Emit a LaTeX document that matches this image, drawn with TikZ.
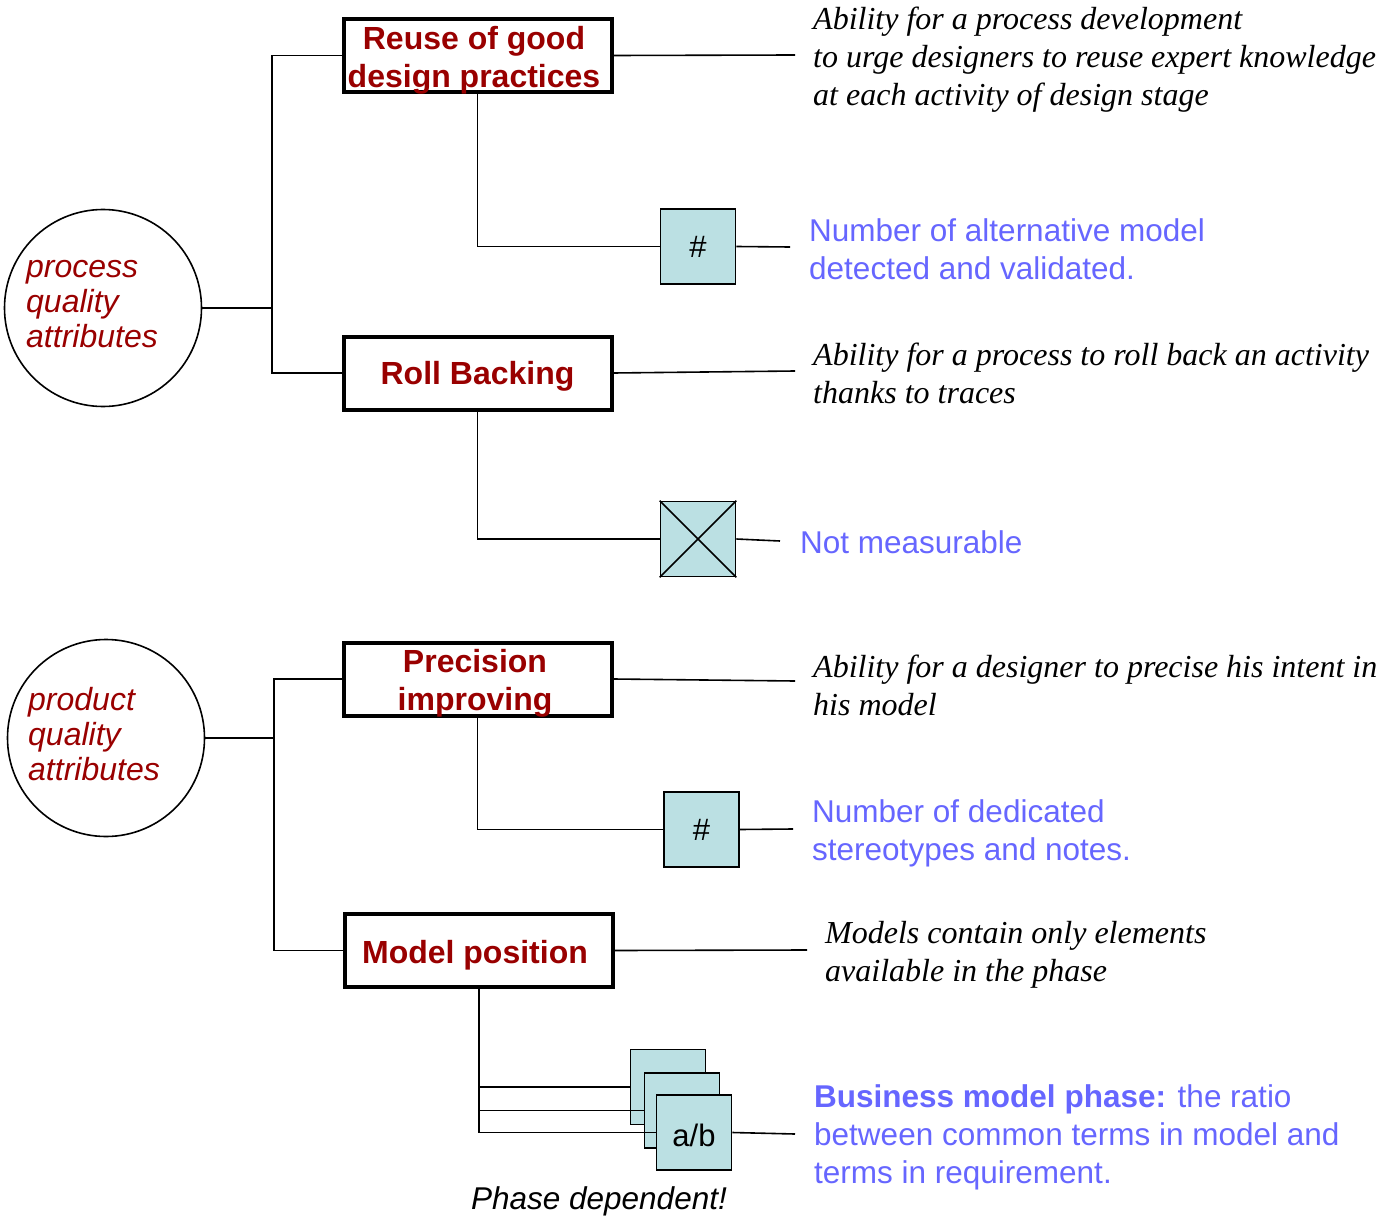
\documentclass[tikz,border=0pt]{standalone}
\usepackage{fontspec}
\setmainfont{Liberation Serif}
\setsansfont{Liberation Sans}
\definecolor{qred}{HTML}{990000}
\definecolor{qblue}{HTML}{6666FF}
\definecolor{mfill}{HTML}{BBE0E3}
\begin{document}
\begin{tikzpicture}[x=1pt,y=-1pt,
  attr/.style={circle, draw, line width=1.6pt, minimum size=197pt, inner sep=0pt},
  attrtext/.style={anchor=west, align=left, inner sep=0pt, text=qred,
    font=\sffamily\itshape\fontsize{32}{35}\selectfont},
  critbox/.style={draw, line width=4pt, minimum width=268pt, minimum height=73pt,
    inner sep=0pt},
  crit/.style={align=center, inner sep=0pt, text=qred,
    font=\sffamily\bfseries\fontsize{32}{38}\selectfont},
  metric/.style={draw, line width=1.6pt, fill=mfill, minimum size=75pt, inner sep=0pt,
    font=\sffamily\fontsize{31}{38}\selectfont},
  link/.style={line width=1.6pt},
  desc/.style={anchor=west, align=left, inner sep=0pt,
    font=\itshape\fontsize{32}{38}\selectfont},
  measure/.style={anchor=west, align=left, inner sep=0pt, text=qblue,
    font=\sffamily\fontsize{31.5}{38}\selectfont}]
\useasboundingbox (0,0) rectangle (1392,1217);

% ---------- process quality attributes ----------
\node[attr] (c1) at (103,308) {};
\node[attrtext] (c1t) at (26,304) {process\\quality\\attributes};
\coordinate (j1) at (272,308);

\node[critbox] (b1) at (477.5,55.5) {};
\node[crit] (b1t) at (474,60) {Reuse of good\\design practices};
\node[critbox] (b2) at (477.5,373) {};
\node[crit] (b2t) at (477.5,376) {Roll Backing};

\draw[link] (c1.east) -- (j1);
\draw[link] (b1.west) -| (j1) |- (b2.west);

\coordinate (d1) at (795,55);
\node[desc] (t1) at (813,60) {Ability for a process development\\to urge designers to reuse expert knowledge\\at each activity of design stage};
\draw[link] (b1.east) -- (d1);

\node[metric] (m1) at (698,246.5) {\#};
\draw[link] (b1.south) |- (m1.west);
\coordinate (e1) at (790,247);
\draw[link] (m1.east) -- (e1);
\node[measure] (s1) at (809,249) {Number of alternative model\\detected and validated.};

\coordinate (d2) at (795,371);
\draw[link] (b2.east) -- (d2);
\node[desc] (t2) at (813,373) {Ability for a process to roll back an activity\\thanks to traces};

\node[metric] (m2) at (698,539) {};
\draw[link] (m2.north west) -- (m2.south east) (m2.north east) -- (m2.south west);
\draw[link] (b2.south) |- (m2.west);
\coordinate (e2) at (780,541);
\draw[link] (m2.east) -- (e2);
\node[measure] (s2) at (800,542) {Not measurable};

% ---------- product quality attributes ----------
\node[attr] (c2) at (106,738) {};
\node[attrtext] (c2t) at (28,734) {product\\quality\\attributes};
\coordinate (j2) at (274,738);

\node[critbox] (b3) at (477.5,679) {};
\node[crit] (b3t) at (475,683) {Precision\\improving};
\node[critbox] (b4) at (479,950.5) {};
\node[crit] (b4t) at (475,955) {Model position};

\draw[link] (c2.east) -- (j2);
\draw[link] (b3.west) -| (j2) |- (b4.west);

\coordinate (d3) at (795,681);
\draw[link] (b3.east) -- (d3);
\node[desc] (t3) at (813,685) {Ability for a designer to precise his intent in\\his model};

\node[metric] (m3) at (701.5,829.5) {\#};
\draw[link] (b3.south) |- (m3.west);
\coordinate (e3) at (793,829);
\draw[link] (m3.east) -- (e3);
\node[measure] (s3) at (812,833) {Number of dedicated\\stereotypes and notes.};

\coordinate (d4) at (807,950);
\draw[link] (b4.east) -- (d4);
\node[desc] (t4) at (825,955) {Models contain only elements\\available in the phase};

\node[metric] (mA) at (668,1087) {};
\node[metric] (mB) at (682,1110.5) {};
\node[metric] (mC) at (694,1132.5) {};
\node[font=\sffamily\fontsize{31}{38}\selectfont, inner sep=0pt] (mCt) at (694,1135.5) {a/b};
\draw[link] (b4.south) |- (mA.west);
\draw[link] (b4.south) |- (mB.west);
\draw[link] (b4.south) |- (mC.west);
\coordinate (e4) at (795,1134);
\draw[link] (mC.east) -- (e4);
\node[measure] (s4) at (814,1137) {\textbf{Business model phase:} the ratio\\between common terms in model and\\terms in requirement.};
\node[font=\sffamily\itshape\fontsize{31.5}{38}\selectfont, inner sep=0pt] (pd) at (599,1201) {Phase dependent!};
\end{tikzpicture}
\end{document}
